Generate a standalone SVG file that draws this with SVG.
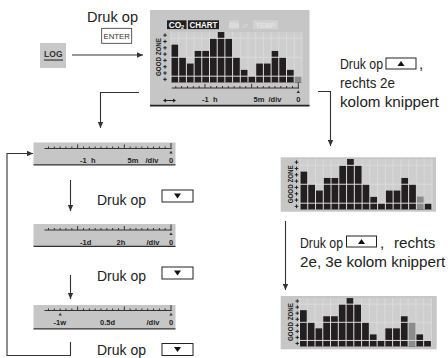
<svg xmlns="http://www.w3.org/2000/svg" xmlns:xlink="http://www.w3.org/1999/xlink" width="448" height="358" viewBox="0 0 448 358">
<style>
.t{font-family:"Liberation Sans",Arial,sans-serif;font-size:15.2px;fill:#222}
.ax{font-family:"Liberation Sans",Arial,sans-serif;font-size:7.5px;font-weight:bold;fill:#222}
.gz{font-family:"Liberation Sans",Arial,sans-serif;font-size:7px;font-weight:bold;fill:#222}
.panel{fill:#c6c6c6}
.btn{fill:#fff;stroke:#222;stroke-width:1}
.conn{fill:none;stroke:#333;stroke-width:1.1}
</style>
<defs>
<marker id="ah" viewBox="0 0 10 10" refX="10" refY="5" markerWidth="6" markerHeight="6" markerUnits="userSpaceOnUse" orient="auto"><path d="M0,0.5L10,5L0,9.5Z" fill="#333"/></marker>
<g id="bars" fill="#231f20">
<rect x="0" y="-6" width="1" height="6"/><rect x="1" y="-4" width="1" height="4"/><rect x="2" y="-3" width="1" height="3"/><rect x="3" y="-5" width="1" height="5"/><rect x="4" y="-5" width="1" height="5"/><rect x="5" y="-7" width="1" height="7"/><rect x="6" y="-8" width="1" height="8"/><rect x="7" y="-7" width="1" height="7"/><rect x="8" y="-4" width="1" height="4"/><rect x="9" y="-2" width="1" height="2"/><rect x="10" y="-1" width="1" height="1"/><rect x="11" y="-3" width="1" height="3"/><rect x="12" y="-3" width="1" height="3"/><rect x="13" y="-5" width="1" height="5"/><rect x="14" y="-4" width="1" height="4"/><rect x="15" y="-2" width="1" height="2"/><rect x="16" y="-1" width="1" height="1"/>
</g>
<path id="gl" d="M0,-8V0M1,-8V0M2,-8V0M3,-8V0M4,-8V0M5,-8V0M6,-8V0M7,-8V0M8,-8V0M9,-8V0M10,-8V0M11,-8V0M12,-8V0M13,-8V0M14,-8V0M15,-8V0M16,-8V0M17,-8V0M0,-1H17M0,-4H17M0,-7H17" fill="none" stroke="#dadada" stroke-width="1" vector-effect="non-scaling-stroke"/>
<path id="pm" d="M-1.8,0H1.8M0,-1.8V1.8" stroke="#222" stroke-width="1"/>
<g id="marks">
<use xlink:href="#pm" y="-3.15"/><use xlink:href="#pm" y="-9.46"/><use xlink:href="#pm" y="-15.77"/><use xlink:href="#pm" y="-22.08"/><use xlink:href="#pm" y="-28.39"/><use xlink:href="#pm" y="-34.7"/><use xlink:href="#pm" y="-41.01"/><use xlink:href="#pm" y="-47.32"/>
</g>
<g id="axis">
<path d="M-126.5,0H0.5" stroke="#333" stroke-width="1"/>
<path d="M-122.5,-2V0M-116.67,-2V0M-110.83,-2V0M-105,-2V0M-99.17,-2V0M-87.5,-2V0M-81.67,-2V0M-75.83,-2V0M-70,-2V0M-64.17,-2V0M-58.33,-2V0M-52.5,-2V0M-40.83,-2V0M-35,-2V0M-29.17,-2V0M-23.33,-2V0M-17.5,-2V0M-11.67,-2V0M-5.83,-2V0M-93.33,-4V0M-46.67,-4V0M0,-5.5V0.5" stroke="#333" stroke-width="1"/>
<path d="M0,2.2L1.7,5H-1.7Z" fill="#333"/>
</g>
<g id="bdown"><rect class="btn" x="0" y="0" width="31" height="12"/><path d="M12,3.5H19L15.5,8.5Z" fill="#111"/></g>
<g id="bup"><rect class="btn" x="0" y="0" width="30" height="11"/><path d="M11.5,8H18.5L15,3Z" fill="#111"/></g>
</defs>

<g id="log">
<rect x="40" y="43" width="26" height="25" fill="#c8c8c8"/>
<text x="53.3" y="57" text-anchor="middle" font-family="Liberation Sans,Arial,sans-serif" font-size="8.5" font-weight="bold" fill="#333">LOG</text>
<rect x="44" y="59.3" width="19" height="1.5" fill="#555"/>
</g>

<g id="step-enter">
<text class="t" x="87" y="21.5" textLength="51" lengthAdjust="spacingAndGlyphs">Druk op</text>
<rect x="101.7" y="28.3" width="30" height="15" fill="#fff" stroke="#333" stroke-width="0.8"/>
<text x="116.7" y="38.8" text-anchor="middle" font-family="Liberation Sans,Arial,sans-serif" font-size="7.8" fill="#333">ENTER</text>
</g>

<g id="chart-main">
<rect class="panel" x="150" y="10" width="159.5" height="96"/>
<path d="M150,105.6H309.5" stroke="#222" stroke-width="1.6"/>
<rect x="167" y="20.3" width="19.5" height="8.8" fill="#231f20"/>
<text x="168.8" y="28" font-family="Liberation Sans,Arial,sans-serif" font-size="8.3" font-weight="bold" fill="#fff">CO</text>
<text x="181" y="28.8" font-family="Liberation Sans,Arial,sans-serif" font-size="5.5" font-weight="bold" fill="#fff">2</text>
<rect x="188" y="20.3" width="31" height="8.8" fill="#231f20"/>
<text x="203.5" y="28" text-anchor="middle" font-family="Liberation Sans,Arial,sans-serif" font-size="8.3" font-weight="bold" fill="#fff" textLength="28" lengthAdjust="spacingAndGlyphs">CHART</text>
<rect x="229" y="20.3" width="10" height="8.8" fill="#d2d2d2"/>
<text x="234" y="27.8" text-anchor="middle" font-family="Liberation Sans,Arial,sans-serif" font-size="7" font-weight="bold" fill="#e2e2e2">RH</text>
<text x="245" y="27.6" text-anchor="middle" font-family="DejaVu Sans,sans-serif" font-size="7" fill="#dadada">⇄</text>
<rect x="253" y="20.3" width="25" height="8.8" fill="#d2d2d2"/>
<text x="265.5" y="27.8" text-anchor="middle" font-family="Liberation Sans,Arial,sans-serif" font-size="7" font-weight="bold" fill="#e2e2e2">TEMP</text>
<g transform="translate(171,82.5) scale(7.7,6.31)">
<rect x="0" y="-8" width="17" height="8" fill="#cecece"/>
<use xlink:href="#bars"/>
<rect x="16" y="-1" width="1" height="1" fill="#8c8c8c"/>
<use xlink:href="#gl"/>
</g>
<use xlink:href="#marks" x="165" y="82.5"/>
<text class="gz" transform="translate(160.5,57) rotate(-90)" text-anchor="middle" textLength="38" lengthAdjust="spacingAndGlyphs">GOOD ZONE</text>
<use xlink:href="#axis" x="298.3" y="88"/>
<path d="M165,100.5H174" stroke="#222" stroke-width="1"/>
<path d="M163,100.5l3,-2v4zM176,100.5l-3,-2v4z" fill="#222"/>
<text class="ax" x="202" y="102">-1</text><text class="ax" x="213" y="102">h</text>
<text class="ax" x="253.5" y="102">5m</text>
<text class="ax" x="268.5" y="102">/div</text>
<text class="ax" x="298.3" y="102" text-anchor="middle">0</text>
</g>

<g id="scale-1h">
<rect class="panel" x="33.5" y="142.5" width="142" height="22.5"/>
<path d="M33.5,164.9H175.5" stroke="#333" stroke-width="1.3"/>
<use xlink:href="#axis" x="171" y="148.5"/>
<text class="ax" x="80" y="162.5">-1</text><text class="ax" x="91" y="162.5">h</text>
<text class="ax" x="127.5" y="162.5">5m</text>
<text class="ax" x="145.5" y="162.5">/div</text>
<text class="ax" x="171" y="162.5" text-anchor="middle">0</text>
</g>

<g id="step-down-1">
<text class="t" x="97" y="204.5" textLength="49" lengthAdjust="spacingAndGlyphs">Druk op</text>
<use xlink:href="#bdown" x="162" y="190"/>
</g>

<g id="scale-1d">
<rect class="panel" x="33.5" y="224" width="142" height="22.5"/>
<path d="M33.5,246.4H175.5" stroke="#333" stroke-width="1.3"/>
<use xlink:href="#axis" x="171" y="230"/>
<text class="ax" x="80" y="244.5">-1d</text>
<text class="ax" x="116.5" y="244.5">2h</text>
<text class="ax" x="146.5" y="244.5">/div</text>
<text class="ax" x="171" y="244.5" text-anchor="middle">0</text>
</g>

<g id="step-down-2">
<text class="t" x="97" y="280.5" textLength="49" lengthAdjust="spacingAndGlyphs">Druk op</text>
<use xlink:href="#bdown" x="162" y="267"/>
</g>

<g id="scale-1w">
<rect class="panel" x="33.5" y="305" width="142" height="24"/>
<path d="M33.5,328.9H175.5" stroke="#333" stroke-width="1.3"/>
<use xlink:href="#axis" x="171" y="310.5"/>
<path d="M60.2,312.7L61.9,315.5H58.5Z" fill="#333"/>
<text class="ax" x="53.5" y="324.5">-1w</text>
<text class="ax" x="100" y="324.5">0.5d</text>
<text class="ax" x="146.5" y="324.5">/div</text>
<text class="ax" x="171" y="324.5" text-anchor="middle">0</text>
</g>

<g id="step-down-3">
<text class="t" x="97" y="355" textLength="49" lengthAdjust="spacingAndGlyphs">Druk op</text>
<use xlink:href="#bdown" x="162" y="343.5"/>
</g>

<g id="step-up-1">
<text class="t" x="340" y="69" textLength="43" lengthAdjust="spacingAndGlyphs">Druk op</text>
<use xlink:href="#bup" x="386" y="58"/>
<text class="t" x="419" y="69">,</text>
<text class="t" x="340" y="88" textLength="55" lengthAdjust="spacingAndGlyphs">rechts 2e</text>
<text class="t" x="340" y="107">kolom knippert</text>
</g>

<g id="chart-2">
<rect class="panel" x="280.7" y="157.3" width="155.3" height="54.4"/>
<g transform="translate(300,209.5) scale(7.76,6.31)">
<rect x="0" y="-8" width="17" height="8" fill="#cecece"/>
<use xlink:href="#bars"/>
<rect x="15" y="-2" width="1" height="2" fill="#8c8c8c"/>
<use xlink:href="#gl"/>
</g>
<use xlink:href="#marks" x="296.5" y="209.5"/>
<text class="gz" transform="translate(293.3,184.3) rotate(-90)" text-anchor="middle" textLength="38" lengthAdjust="spacingAndGlyphs">GOOD ZONE</text>
</g>

<g id="step-up-2">
<text class="t" x="300" y="248" textLength="43" lengthAdjust="spacingAndGlyphs">Druk op</text>
<use xlink:href="#bup" x="346.5" y="236"/>
<text class="t" x="380" y="248">,</text>
<text class="t" x="394" y="248">rechts</text>
<text class="t" x="300" y="267">2e, 3e kolom knippert</text>
</g>

<g id="chart-3">
<rect class="panel" x="280.7" y="296" width="156" height="53.3"/>
<g transform="translate(299.5,346.5) scale(7.76,6.05)">
<rect x="0" y="-8" width="17" height="8" fill="#cecece"/>
<use xlink:href="#bars"/>
<rect x="14" y="-4" width="1" height="4" fill="#8c8c8c"/>
<use xlink:href="#gl"/>
</g>
<g transform="translate(297.3,346.5) scale(1,0.96)"><use xlink:href="#marks"/></g>
<text class="gz" transform="translate(293.3,322) rotate(-90)" text-anchor="middle" textLength="38" lengthAdjust="spacingAndGlyphs">GOOD ZONE</text>
</g>

<g id="connectors">
<path class="conn" d="M72,55H143" marker-end="url(#ah)"/>
<path class="conn" d="M139,92.5H100.5V128" marker-end="url(#ah)"/>
<path class="conn" d="M318,91.5H330.5V146" marker-end="url(#ah)"/>
<path class="conn" d="M285.5,221V290" marker-end="url(#ah)"/>
<path class="conn" d="M70.5,180V211" marker-end="url(#ah)"/>
<path class="conn" d="M70.5,275V299" marker-end="url(#ah)"/>
<path class="conn" d="M70.5,342V355.5H7V153.5H33" marker-end="url(#ah)"/>
</g>
</svg>
